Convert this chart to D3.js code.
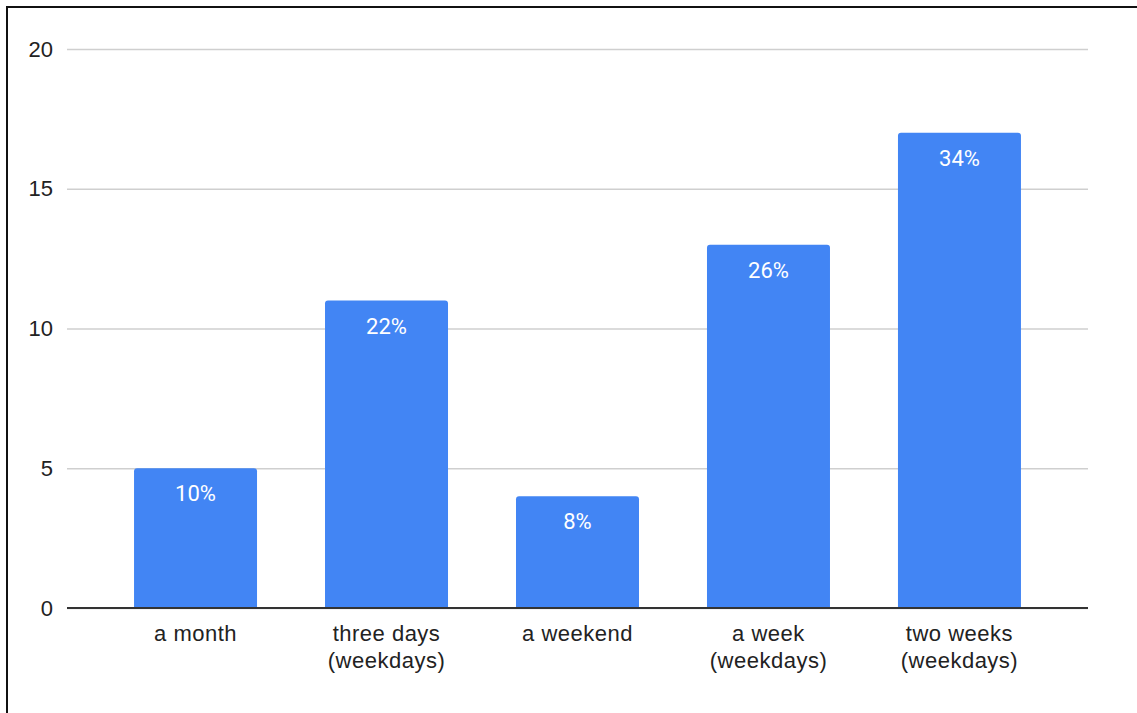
<!DOCTYPE html>
<html>
<head>
<meta charset="utf-8">
<script src="https://cdn.jsdelivr.net/npm/d3@7"></script>
<style>
  body { margin: 0; background: #fff; }
  svg { display: block; }
  .tick text { font-family: "Liberation Sans", Arial, sans-serif; fill: #222; }
</style>
</head>
<body>
<svg id="chart" width="1137" height="713"></svg>
<script>
// data
var categories = ["a month", "three days|(weekdays)", "a weekend", "a week|(weekdays)", "two weeks|(weekdays)"];
var counts = [5, 11, 4, 13, 17];
var pctLabels = ["10%", "22%", "8%", "26%", "34%"];
var yTicks = [0, 5, 10, 15, 20];

var dims = { left: 67, right: 1088, top: 49, bottom: 608 };
var svg = d3.select("#chart");

// frame
svg.append("rect")
    .attr("x", 7).attr("y", 7)
    .attr("width", 1140).attr("height", 720)
    .attr("fill", "none").attr("stroke", "#111").attr("stroke-width", 2);

var x = d3.scaleBand()
    .domain(categories)
    .range([dims.left, dims.right])
    .paddingInner(0.356)
    .paddingOuter(0.351);

var y = d3.scaleLinear()
    .domain([0, 20])
    .range([dims.bottom, dims.top]);

// gridlines + y labels
var yAxis = svg.append("g")
    .attr("transform", `translate(${dims.left},0)`)
    .call(d3.axisLeft(y).tickValues(yTicks).tickSize(-(dims.right - dims.left)).tickPadding(14));
yAxis.select(".domain").remove();
yAxis.selectAll(".tick line").attr("stroke", "#cfcfcf").attr("stroke-width", 1.5);
yAxis.selectAll(".tick text").style("font-size", "22px");

// bars with slightly rounded tops
var r = 3;
svg.append("g").selectAll("path")
    .data(counts)
    .join("path")
    .attr("fill", "#4285f4")
    .attr("d", (d, i) => {
        var x0 = x(categories[i]), w = x.bandwidth(), y0 = y(d), y1 = y(0);
        return `M${x0},${y1}V${y0 + r}Q${x0},${y0} ${x0 + r},${y0}H${x0 + w - r}Q${x0 + w},${y0} ${x0 + w},${y0 + r}V${y1}Z`;
    });

// percent labels inside the bars
svg.append("g").selectAll("text")
    .data(counts)
    .join("text")
    .attr("x", (d, i) => x(categories[i]) + x.bandwidth() / 2)
    .attr("y", d => y(d) + 33)
    .attr("text-anchor", "middle")
    .attr("fill", "#fff")
    .style("font-family", "Roboto, sans-serif")
    .style("font-size", "22px")
    .text((d, i) => pctLabels[i]);

// baseline
svg.append("line")
    .attr("x1", dims.left).attr("x2", dims.right)
    .attr("y1", y(0)).attr("y2", y(0))
    .attr("stroke", "#333").attr("stroke-width", 2);

// category labels (two lines where needed)
var xLabels = svg.append("g").selectAll("text")
    .data(categories)
    .join("text")
    .attr("x", d => x(d) + x.bandwidth() / 2)
    .attr("y", 641)
    .attr("text-anchor", "middle")
    .attr("fill", "#222")
    .style("font-family", "\"Liberation Sans\", Arial, sans-serif")
    .style("font-size", "22px")
    .style("letter-spacing", "0.5px");
xLabels.each(function (d) {
    var parts = d.split("|");
    d3.select(this).selectAll("tspan")
        .data(parts)
        .join("tspan")
        .attr("x", d3.select(this).attr("x"))
        .attr("dy", (p, j) => j === 0 ? 0 : 27)
        .text(p => p);
});
</script>
</body>
</html>
